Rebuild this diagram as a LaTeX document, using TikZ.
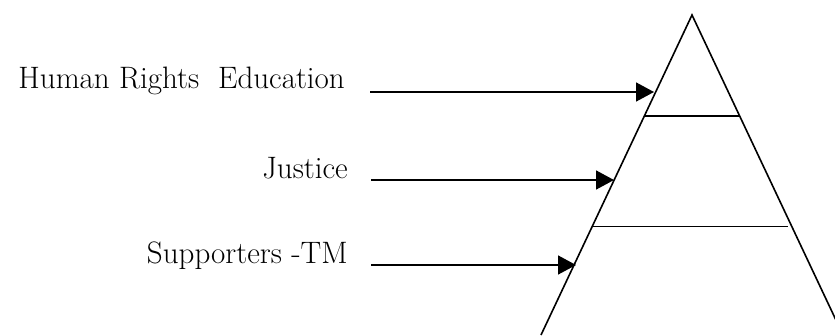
\documentclass[tikz,border=0pt]{standalone}
\usetikzlibrary{arrows.meta}
\begin{document}
\begin{tikzpicture}[x=1pt,y=-1pt,
  edge/.style={line width=1.6pt},
  pointer/.style={line width=1.6pt,-{Triangle[length=18pt,width=19pt]}},
  label/.style={anchor=base east,inner sep=0pt,font=\fontsize{31}{36}\selectfont}]
\useasboundingbox (0,0) rectangle (835,335);
\begin{scope}
\clip (0,0) rectangle (835,335);
\coordinate (apex) at (692,15);
\coordinate (bl) at (541,335);
\coordinate (br) at (843,335);
\draw[edge,line join=miter] (bl) -- (apex) -- (br);
\end{scope}
\coordinate (l1a) at (645,116);
\coordinate (l1b) at (740,116);
\coordinate (l2a) at (593,226.5);
\coordinate (l2b) at (788,226.5);
\draw[edge] (l1a) -- (l1b);
\draw[edge] (l2a) -- (l2b);
\node[label] (t1) at (345,88) {Human Rights\ \ Education};
\node[label] (t2) at (348,178) {Justice};
\node[label] (t3) at (348,263) {Supporters -TM};
\coordinate (s1) at (370,92);
\coordinate (e1) at (654,92);
\coordinate (s2) at (371,180);
\coordinate (e2) at (614,180);
\coordinate (s3) at (371,265);
\coordinate (e3) at (576,265);
\draw[pointer] (s1) -- (e1);
\draw[pointer] (s2) -- (e2);
\draw[pointer] (s3) -- (e3);
\end{tikzpicture}
\end{document}
